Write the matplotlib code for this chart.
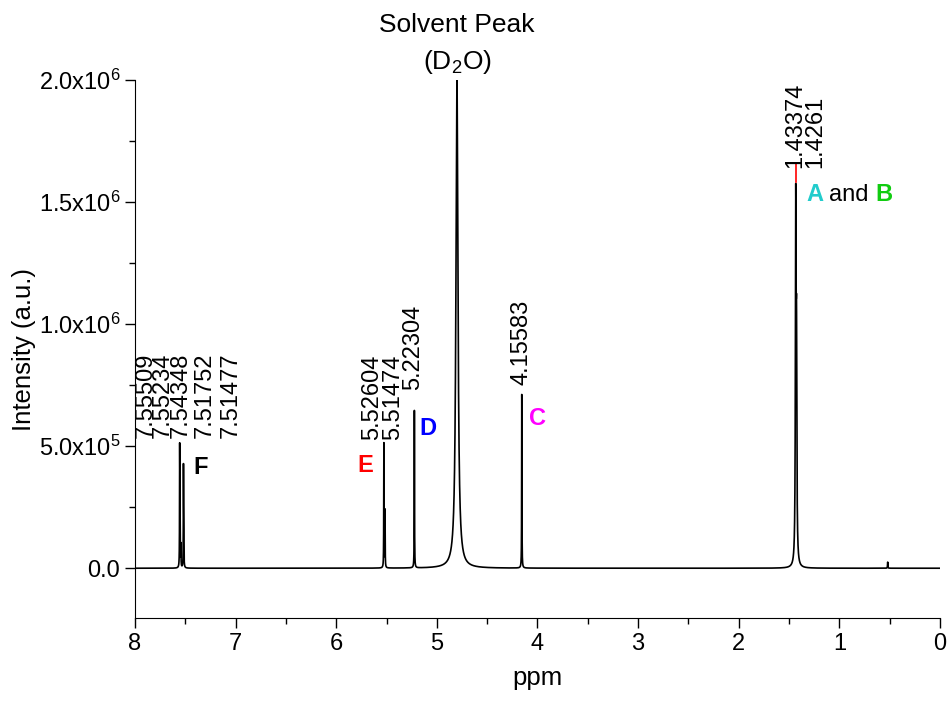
import numpy as np
import matplotlib
matplotlib.use("Agg")
import matplotlib.pyplot as plt

plt.rcParams["font.family"] = ["Liberation Sans", "DejaVu Sans"]
plt.rcParams["mathtext.fontset"] = "custom"
plt.rcParams["mathtext.rm"] = "Liberation Sans"
plt.rcParams["mathtext.it"] = "Liberation Sans:italic"

# peak table (ppm, height, half width)
peak_ppm = [7.55509, 7.55234, 7.54348, 7.51752, 7.51477, 5.52604, 5.51474,
            5.22304, 4.80, 4.15583, 1.43374, 1.4261, 0.52]
peak_height = [4.6e5, 2.2e5, 0.9e5, 3.9e5, 1.6e5, 5.1e5, 2.4e5,
               6.45e5, 2.0e6, 7.2e5, 1.40e6, 0.8e6, 2.5e4]
peak_width = [0.0015, 0.0015, 0.0015, 0.0015, 0.0015, 0.0015, 0.0015,
              0.0015, 0.012, 0.0015, 0.004, 0.004, 0.002]

# peak picking labels: text, x position (ppm), bottom of text (a.u.)
label_text = ["7.55509", "7.55234", "7.54348", "7.51752", "7.51477",
              "5.52604", "5.51474", "5.22304", "4.15583", "1.43374", "1.4261"]
label_x = [7.89, 7.72, 7.54, 7.31, 7.05, 5.645, 5.436, 5.237, 4.154, 1.441, 1.242]
label_y = [5.33e5, 5.33e5, 5.33e5, 5.33e5, 5.33e5, 5.25e5, 5.25e5,
           7.3e5, 7.5e5, 1.64e6, 1.64e6]

# assignment letters
letter_text = ["F", "E", "D", "C"]
letter_x = [7.35, 5.71, 5.09, 4.00]
letter_y = [4.14e5, 4.22e5, 5.74e5, 6.15e5]
letter_color = ["black", "#ff0000", "#0000ff", "#ff00ff"]

ppm = np.linspace(8, 0, 16001)
intensity = np.zeros_like(ppm)
for p, h, w in zip(peak_ppm, peak_height, peak_width):
    intensity += h / (1 + ((ppm - p) / w) ** 2)
intensity = np.minimum(intensity, 2.0e6)

fig = plt.figure(figsize=(9.5, 7.01), dpi=100)
ax = fig.add_axes([0.142, 0.118, 0.9895 - 0.142, 0.886 - 0.118])
ax.plot(ppm, intensity, color="black", lw=1.2)
# red leader on top of A/B peak
ax.plot([1.433, 1.433], [1.58e6, 1.655e6], color="red", lw=1.2)

ax.set_xlim(8, 0)
ax.set_ylim(-2.05e5, 2.0e6)
ax.spines["top"].set_visible(False)
ax.spines["right"].set_visible(False)
ax.set_xticks(np.arange(0, 9, 1))
ax.set_xticks(np.arange(0, 8.01, 0.5), minor=True)
yt = [0, 5e5, 1e6, 1.5e6, 2e6]
ax.set_yticks(yt)
ax.set_yticklabels(["0.0", "5.0x10$^5$", "1.0x10$^6$", "1.5x10$^6$", "2.0x10$^6$"])
ax.set_yticks(np.arange(0, 2.01e6, 2.5e5), minor=True)
ax.tick_params(which="major", direction="out", length=7, width=1, labelsize=17)
ax.tick_params(which="minor", direction="out", length=4, width=1)
ax.set_xlabel("ppm", fontsize=18.5, labelpad=8)
ax.set_ylabel("Intensity (a.u.)", fontsize=18.5, labelpad=2)

for t, x, y in zip(label_text, label_x, label_y):
    ax.text(x, y, t, rotation=90, ha="center", va="bottom", fontsize=17)

for t, x, y, c in zip(letter_text, letter_x, letter_y, letter_color):
    ax.text(x, y, t, ha="center", va="center", fontsize=17, fontweight="bold", color=c)

ax.text(1.33, 1.53e6, "A", ha="left", va="center", fontsize=17, fontweight="bold", color="#22cccc")
ax.text(1.10, 1.53e6, "and", ha="left", va="center", fontsize=17)
ax.text(0.64, 1.53e6, "B", ha="left", va="center", fontsize=17, fontweight="bold", color="#11cc11")

ax.text(4.80, 2.225e6, "Solvent Peak", ha="center", va="center", fontsize=19, clip_on=False)
ax.text(4.80, 2.075e6, "(D$_2$O)", ha="center", va="center", fontsize=19, clip_on=False)

fig.savefig("out.png", dpi=100)
